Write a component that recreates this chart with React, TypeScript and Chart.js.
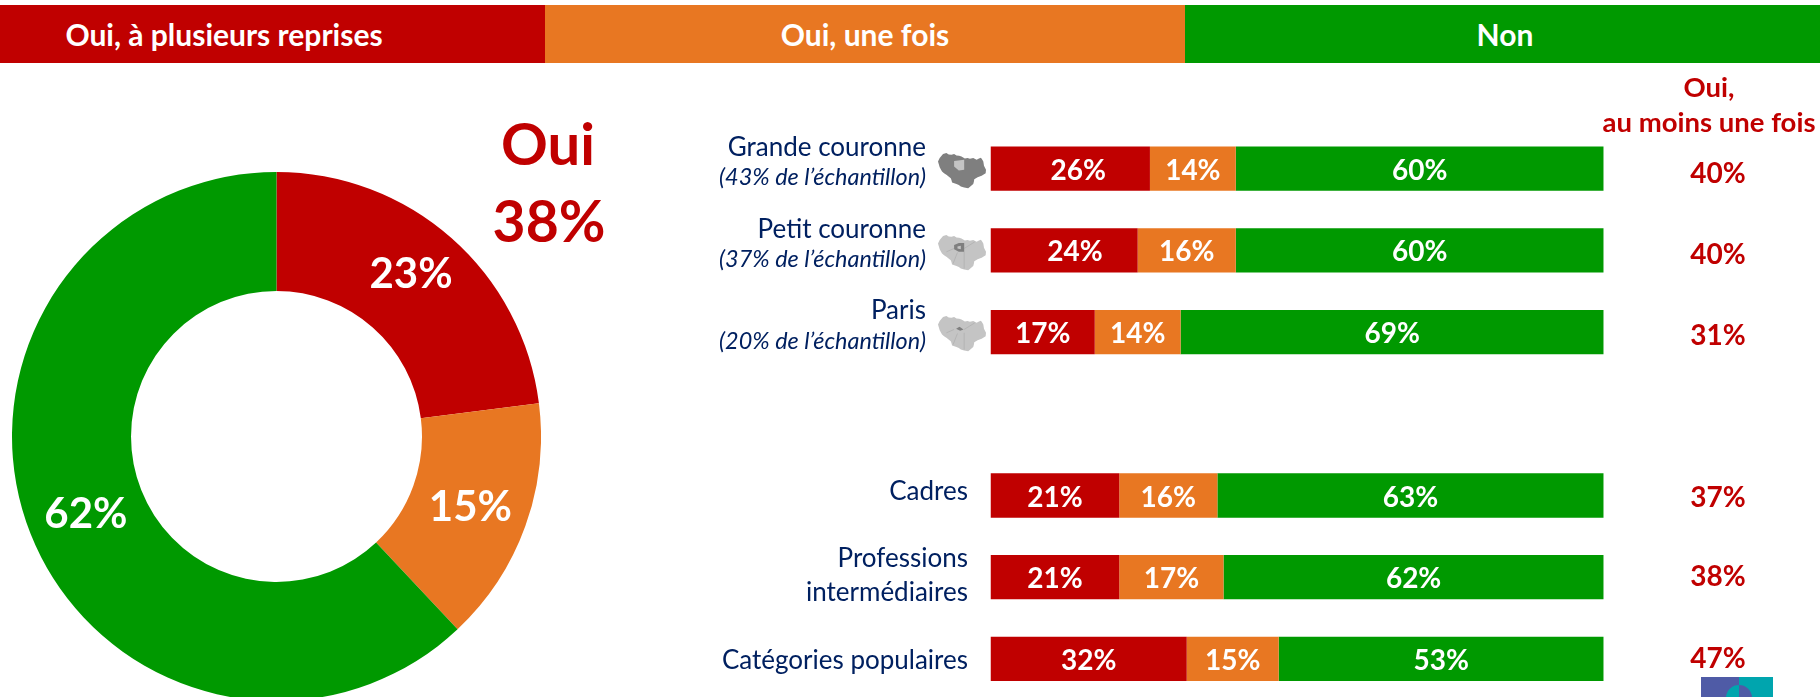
import React, { useEffect, useRef } from "react";
import { Chart, registerables } from "chart.js";

Chart.register(...registerables);

const RED = "#C00000";
const ORANGE = "#E87722";
const GREEN = "#009900";
const NAVY = "#002060";
const FONT = "Lato, 'Open Sans', sans-serif";

const headerLabels = ["Oui, à plusieurs reprises", "Oui, une fois", "Non"];
const overallValues = [23, 15, 62];
const overallTotalTitle = "Oui";
const overallTotal = "38%";
const totalsTitle = ["Oui,", "au moins une fois"];

const categories = ["Grande couronne", "Petit couronne", "Paris", "", "Cadres", "Professions intermédiaires", "Catégories populaires"];
const categoryLines = [["Grande couronne"], ["Petit couronne"], ["Paris"], [], ["Cadres"], ["Professions", "intermédiaires"], ["Catégories populaires"]];
const sampleShares = ["(43% de l’échantillon)", "(37% de l’échantillon)", "(20% de l’échantillon)", "", "", "", ""];
const repeatedly = [26, 24, 17, null, 21, 21, 32];
const once = [14, 16, 14, null, 16, 17, 15];
const never = [60, 60, 69, null, 63, 62, 53];
const ouiTotals = ["40%", "40%", "31%", "", "37%", "38%", "47%"];

const doughnutLabels = {
  id: "doughnutLabels",
  afterDatasetsDraw(chart: any) {
    const { ctx } = chart;
    const meta = chart.getDatasetMeta(0);
    const shift = [[-1, -8], [1, 2], [0, 2]];
    ctx.save();
    ctx.fillStyle = "#fff";
    ctx.font = `bold 42px ${FONT}`;
    ctx.textAlign = "center";
    ctx.textBaseline = "middle";
    meta.data.forEach((arc: any, i: number) => {
      const p = arc.tooltipPosition();
      ctx.fillText(`${overallValues[i]}%`, p.x + shift[i][0], p.y + shift[i][1]);
    });
    ctx.restore();
  },
};

const barLabels = {
  id: "barLabels",
  afterDatasetsDraw(chart: any) {
    const { ctx, scales } = chart;
    const y = scales.y;
    ctx.save();
    ctx.textBaseline = "middle";
    // values inside the bars
    ctx.fillStyle = "#fff";
    ctx.textAlign = "center";
    ctx.font = `bold 28px ${FONT}`;
    chart.data.datasets.forEach((ds: any, d: number) => {
      chart.getDatasetMeta(d).data.forEach((bar: any, i: number) => {
        const v = ds.data[i];
        if (v == null) return;
        const nudge = d === 0 && i === 0 ? 8 : d === 0 && i === 1 ? 11 : 0;
        ctx.fillText(`${v}%`, (bar.base + bar.x) / 2 + nudge, bar.y + 2);
      });
    });
    // category labels, right aligned
    ctx.textAlign = "right";
    categories.forEach((_, i) => {
      const cy = y.getPixelForValue(i);
      const lines = categoryLines[i];
      const right = sampleShares[i] ? 326 : 368;
      ctx.fillStyle = NAVY;
      ctx.font = `26px ${FONT}`;
      if (sampleShares[i]) {
        ctx.fillText(lines[0], right, cy - 21);
        ctx.font = `italic 23.4px ${FONT}`;
        ctx.fillText(sampleShares[i], right, cy + 9);
      } else if (lines.length === 2) {
        ctx.fillText(lines[0], right, cy - 19);
        ctx.fillText(lines[1], right, cy + 15);
      } else if (lines.length === 1) {
        ctx.fillText(lines[0], right, cy + (i === 4 ? -4 : 2));
      }
    });
    // right-hand totals
    const dy = [5, 5, 4, 0, 2, 0, 0];
    ctx.textAlign = "center";
    ctx.fillStyle = RED;
    ctx.font = `bold 28px ${FONT}`;
    ouiTotals.forEach((t, i) => {
      if (t) ctx.fillText(t, 1118, y.getPixelForValue(i) + dy[i]);
    });
    ctx.restore();
  },
};

function Region({ d }: { d: string }) {
  return <path d={d} />;
}

const regionOutline = "M0 25 L5 15 L15 3 L25 0 L32 4 L40 5 L48 3 L55 7 L63 8 L70 10 L80 16 L88 15 L95 17 L105 15 L115 20 L122 16 L128 14 L132 20 L135 25 L137 38 L143 50 L142 60 L136 64 L130 68 L118 72 L108 78 L107 85 L105 92 L98 98 L90 105 L78 103 L68 100 L62 95 L55 92 L42 88 L40 80 L38 75 L25 65 L18 60 L12 55 L5 42 Z";

function RegionMap({ top, fill, innerFill, innerPath, lines }: { top: number; fill: string; innerFill: string; innerPath: string; lines?: boolean }) {
  return (
    <svg width={48} height={37} viewBox="0 0 143 110" style={{ position: "absolute", left: 938, top }} aria-hidden="true">
      <g fill={fill}><Region d={regionOutline} /></g>
      {lines ? <path d="M78 50 L78 100 M48 40 L25 50 M58 52 L45 85 M78 40 L110 20" stroke="#ADADAD" strokeWidth={2} fill="none" /> : null}
      <g fill={innerFill}><Region d={innerPath} /></g>
    </svg>
  );
}

const abs = (o: React.CSSProperties): React.CSSProperties => ({ position: "absolute", whiteSpace: "nowrap", fontFamily: FONT, ...o });

export default function App() {
  const donutRef = useRef<HTMLCanvasElement>(null);
  const barRef = useRef<HTMLCanvasElement>(null);

  useEffect(() => {
    const donut = new Chart(donutRef.current!, {
      type: "doughnut",
      data: {
        labels: headerLabels,
        datasets: [{ data: overallValues, backgroundColor: [RED, ORANGE, GREEN], borderWidth: 0 }],
      },
      options: {
        responsive: false,
        animation: false,
        cutout: "55%",
        layout: { padding: 0 },
        plugins: { legend: { display: false }, tooltip: { enabled: false } },
      },
      plugins: [doughnutLabels],
    });
    const bars = new Chart(barRef.current!, {
      type: "bar",
      data: {
        labels: categories,
        datasets: [
          { label: headerLabels[0], data: repeatedly, backgroundColor: RED },
          { label: headerLabels[1], data: once, backgroundColor: ORANGE },
          { label: headerLabels[2], data: never, backgroundColor: GREEN },
        ],
      },
      options: {
        indexAxis: "y",
        responsive: false,
        animation: false,
        layout: { padding: { left: 390.5, right: 216.3, top: 127.85, bottom: 40.25 } },
        datasets: { bar: { categoryPercentage: 1, barPercentage: 0.542, borderWidth: 0 } },
        scales: {
          x: { stacked: true, min: 0, max: 100, display: false },
          y: { stacked: true, display: false },
        },
        plugins: { legend: { display: false }, tooltip: { enabled: false } },
      },
      plugins: [barLabels],
    });
    return () => {
      donut.destroy();
      bars.destroy();
    };
  }, []);

  const headerStyle = (left: number, width: number, bg: string): React.CSSProperties => ({
    position: "absolute", left, top: 5, width, height: 58, background: bg,
  });
  const headerText: React.CSSProperties = abs({ top: 5, height: 58, lineHeight: "58px", color: "#fff", fontWeight: 700, fontSize: 30, transform: "translateX(-50%)" });

  return (
    <div style={{ position: "absolute", left: 0, top: 0, width: 1820, height: 697, overflow: "hidden", background: "#fff" }}>
      <div style={headerStyle(0, 545, RED)} />
      <div style={headerStyle(545, 640, ORANGE)} />
      <div style={headerStyle(1185, 635, GREEN)} />
      <div style={{ ...headerText, left: 224 }}>{headerLabels[0]}</div>
      <div style={{ ...headerText, left: 865 }}>{headerLabels[1]}</div>
      <div style={{ ...headerText, left: 1505 }}>{headerLabels[2]}</div>

      <canvas ref={donutRef} width={529} height={529} style={{ position: "absolute", left: 12, top: 172, width: 529, height: 529 }} />
      <canvas ref={barRef} width={1220} height={740} style={{ position: "absolute", left: 600, top: 0, width: 1220, height: 740 }} />

      <div style={abs({ left: 548, top: 143, transform: "translate(-50%,-50%)", color: RED, fontWeight: 700, fontSize: 58, lineHeight: 1 })}>{overallTotalTitle}</div>
      <div style={abs({ left: 549, top: 220, transform: "translate(-50%,-50%)", color: RED, fontWeight: 700, fontSize: 57, lineHeight: 1 })}>{overallTotal}</div>

      <div style={abs({ left: 1709, top: 87, transform: "translate(-50%,-50%)", color: RED, fontWeight: 700, fontSize: 27.5, lineHeight: 1 })}>{totalsTitle[0]}</div>
      <div style={abs({ left: 1709, top: 122, transform: "translate(-50%,-50%)", color: RED, fontWeight: 700, fontSize: 27.5, lineHeight: 1 })}>{totalsTitle[1]}</div>

      <RegionMap top={153} fill="#7F7F7F" innerFill="#C4C4C4" innerPath="M48 24 L60 22 L78 20 L78 50 L62 52 L48 40 Z" />
      <RegionMap top={235} fill="#C4C4C4" innerFill="#7F7F7F" lines innerPath="M48 30 L62 24 L78 24 L78 50 L62 50 L48 42 Z M58 34 L58 40 L68 42 L68 32 Z" />
      <RegionMap top={316} fill="#C4C4C4" innerFill="#7F7F7F" lines innerPath="M54 38 L64 32 L76 40 L66 44 Z" />

      <svg width={72} height={20} viewBox="0 0 72 20" style={{ position: "absolute", left: 1701, top: 677 }} aria-hidden="true">
        <rect x={0} y={0} width={38} height={20} fill="#4F5BA6" />
        <rect x={38} y={0} width={34} height={20} fill="#00A5AE" />
        <path d="M38 8 A 13 13 0 0 0 25 20 L38 20 Z" fill="#00A5AE" />
        <path d="M38 8 A 13 13 0 0 1 51 20 L38 20 Z" fill="#4F5BA6" />
      </svg>
    </div>
  );
}
